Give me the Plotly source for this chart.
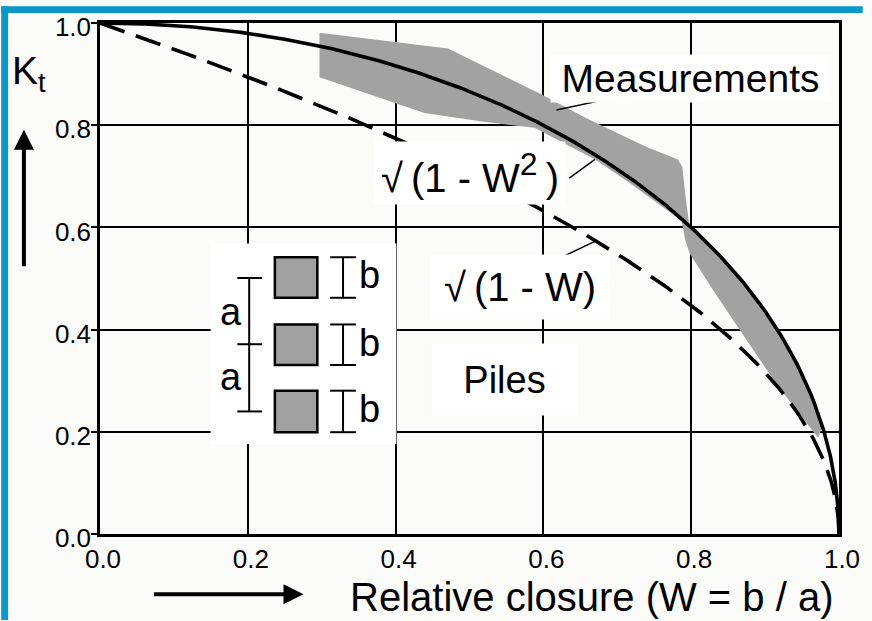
import numpy as np
import plotly.graph_objects as go

# ---- data -------------------------------------------------------------
# relative closure W = b / a and the two theoretical reduction factors
w_values = np.concatenate([np.linspace(0.0, 0.97, 240), np.linspace(0.97, 1.0, 160)[1:]])
kt_sqrt_one_minus_w2 = np.sqrt(1.0 - w_values ** 2)   # sqrt(1 - W^2)
kt_sqrt_one_minus_w = np.sqrt(1.0 - w_values)         # sqrt(1 - W)

# outline of the band of measured values (upper/right side, then back along the lower/left side)
band_w = [0.297, 0.471, 0.595, 0.655, 0.699, 0.739, 0.782, 0.788, 0.793, 0.798,
          0.830, 0.860, 0.890, 0.920, 0.945, 0.965, 0.976, 0.972,
          0.916, 0.865, 0.831, 0.798, 0.792, 0.787, 0.714, 0.670, 0.632, 0.612,
          0.588, 0.517, 0.439, 0.297]
band_kt = [0.981, 0.950, 0.862, 0.816, 0.785, 0.758, 0.733, 0.718, 0.652, 0.600,
           0.557, 0.508, 0.455, 0.392, 0.326, 0.262, 0.205, 0.188,
           0.292, 0.400, 0.474, 0.549, 0.575, 0.613, 0.690, 0.733, 0.762, 0.778,
           0.795, 0.807, 0.824, 0.894]

x_ticks = [0.0, 0.2, 0.4, 0.6, 0.8, 1.0]
x_tick_text = ["0.0", "0.2", "0.4", "0.6", "0.8", "1.0"]
y_ticks = [0.0, 0.2, 0.4, 0.6, 0.8, 1.0]
y_tick_text = ["0.0", "0.2", "0.4", "0.6", "0.8", "1.0"]

# ---- page geometry ----------------------------------------------------
W_PX, H_PX = 872, 621
M_L, M_R, M_T, M_B = 100, 24, 17, 87
PLOT_W = W_PX - M_L - M_R
PLOT_H = H_PX - M_T - M_B


def px_x(p):
    """pixel column -> paper x"""
    return (p - M_L) / PLOT_W


def px_y(p):
    """pixel row -> paper y"""
    return (H_PX - M_B - p) / PLOT_H


FONT = "Liberation Sans, Arial, Helvetica, sans-serif"
BLUE = "#0a98cb"
BG = "#fbfbf9"
GRAY = "#a2a2a2"

fig = go.Figure()

fig.add_trace(go.Scatter(
    x=band_w, y=band_kt, mode="lines", fill="toself",
    fillcolor=GRAY, line=dict(width=0, color=GRAY), hoverinfo="skip",
    showlegend=False,
))
fig.add_trace(go.Scatter(
    x=w_values, y=kt_sqrt_one_minus_w, mode="lines",
    line=dict(color="black", width=3.6, dash="26px,12px"), showlegend=False,
))
fig.add_trace(go.Scatter(
    x=w_values, y=kt_sqrt_one_minus_w2, mode="lines",
    line=dict(color="black", width=3.6), showlegend=False,
))

shapes = []

# inset sketch of the pile row
shapes.append(dict(type="rect", xref="paper", yref="paper",
                   x0=px_x(212), x1=px_x(400), y0=px_y(443), y1=px_y(240),
                   fillcolor="white", line=dict(width=0), layer="above"))
for top, bot in [(254, 295), (322, 363), (389, 431)]:
    shapes.append(dict(type="rect", xref="paper", yref="paper",
                       x0=px_x(277), x1=px_x(320), y0=px_y(bot), y1=px_y(top),
                       fillcolor="#a0a0a0", line=dict(color="black", width=2.5), layer="above"))
    # dimension bar "b"
    shapes.append(dict(type="line", xref="paper", yref="paper",
                       x0=px_x(346), x1=px_x(346), y0=px_y(bot), y1=px_y(top),
                       line=dict(color="black", width=2), layer="above"))
    for yy in (top, bot):
        shapes.append(dict(type="line", xref="paper", yref="paper",
                           x0=px_x(333), x1=px_x(359), y0=px_y(yy), y1=px_y(yy),
                           line=dict(color="black", width=2), layer="above"))
# dimension bar "a"
shapes.append(dict(type="line", xref="paper", yref="paper",
                   x0=px_x(251), x1=px_x(251), y0=px_y(410), y1=px_y(275),
                   line=dict(color="black", width=2), layer="above"))
for yy in (275, 342, 410):
    shapes.append(dict(type="line", xref="paper", yref="paper",
                       x0=px_x(239), x1=px_x(264), y0=px_y(yy), y1=px_y(yy),
                       line=dict(color="black", width=2), layer="above"))

# leader lines
for (x0, y0, x1, y1) in [(562, 105, 628, 91), (575, 174, 601, 155), (565, 255, 603, 237)]:
    shapes.append(dict(type="line", xref="paper", yref="paper",
                       x0=px_x(x0), x1=px_x(x1), y0=px_y(y0), y1=px_y(y1),
                       line=dict(color="black", width=1.5), layer="above"))

# blue frame strips along the left and top edges
shapes.append(dict(type="rect", xref="paper", yref="paper",
                   x0=px_x(0), x1=px_x(7), y0=px_y(H_PX), y1=px_y(0),
                   fillcolor=BLUE, line=dict(width=0), layer="above"))
shapes.append(dict(type="rect", xref="paper", yref="paper",
                   x0=px_x(0), x1=px_x(W_PX), y0=px_y(7), y1=px_y(0),
                   fillcolor=BLUE, line=dict(width=0), layer="above"))

annotations = []


def label(text, cx, cy, w, h, size=38):
    annotations.append(dict(
        text=text, xref="paper", yref="paper", x=px_x(cx), y=px_y(cy),
        xanchor="center", yanchor="middle", showarrow=False,
        width=w, height=h, bgcolor="white", borderpad=0,
        font=dict(family=FONT, size=size, color="black"),
    ))


label("Measurements", 697.5, 73.5, 279, 47, 39)
label("√\u2009(1 - W<sup><span style='font-size:32px'>2</span></sup>\u2009)", 475, 169, 190, 62, 40)
label("√\u2009(1 - W)", 525, 284, 178, 64, 40)
label("Piles", 509.5, 377.5, 145, 71, 38)

# letters of the inset sketch
for (t, cx, cy) in [("b", 373, 272), ("b", 373, 341), ("b", 373, 408),
                    ("a", 233, 309), ("a", 233, 375)]:
    annotations.append(dict(text=t, xref="paper", yref="paper", x=px_x(cx), y=px_y(cy),
                            xanchor="center", yanchor="middle", showarrow=False,
                            font=dict(family=FONT, size=38, color="black")))

# axis titles
annotations.append(dict(text="K<sub>t</sub>", xref="paper", yref="paper",
                        x=px_x(28), y=px_y(68), xanchor="center", yanchor="middle",
                        showarrow=False, font=dict(family=FONT, size=39, color="black")))
annotations.append(dict(text="Relative closure (W = b / a)", xref="paper", yref="paper",
                        x=px_x(598), y=px_y(598), xanchor="center", yanchor="middle",
                        showarrow=False, font=dict(family=FONT, size=40, color="black")))

# direction arrows
annotations.append(dict(text="", xref="paper", yref="paper", x=px_x(23), y=px_y(125),
                        ax=0, ay=138, showarrow=True, arrowhead=2, arrowsize=1,
                        arrowwidth=4, arrowcolor="black"))
annotations.append(dict(text="", xref="paper", yref="paper", x=px_x(306), y=px_y(595),
                        ax=-151, ay=0, showarrow=True, arrowhead=2, arrowsize=1,
                        arrowwidth=4, arrowcolor="black"))

axis_common = dict(
    range=[0, 1], showgrid=True, gridcolor="black", gridwidth=2,
    showline=True, linecolor="black", linewidth=2.5, mirror=True,
    zeroline=False, tickfont=dict(family=FONT, size=26, color="black"),
    fixedrange=True,
)

fig.update_layout(
    width=W_PX, height=H_PX,
    margin=dict(l=M_L, r=M_R, t=M_T, b=M_B, pad=0),
    paper_bgcolor=BG, plot_bgcolor=BG,
    showlegend=False,
    shapes=shapes,
    annotations=annotations,
    xaxis=dict(axis_common, tickvals=x_ticks, ticktext=x_tick_text, ticks="",
               ticklabelstandoff=0, ticklabelshift=3),
    yaxis=dict(axis_common, tickvals=y_ticks, ticktext=y_tick_text, ticks="outside",
               ticklen=6, tickwidth=2, tickcolor="black", ticklabelstandoff=-5,
               ticklabelshift=4),
)

fig.write_html("out.html", config={"displayModeBar": False})
